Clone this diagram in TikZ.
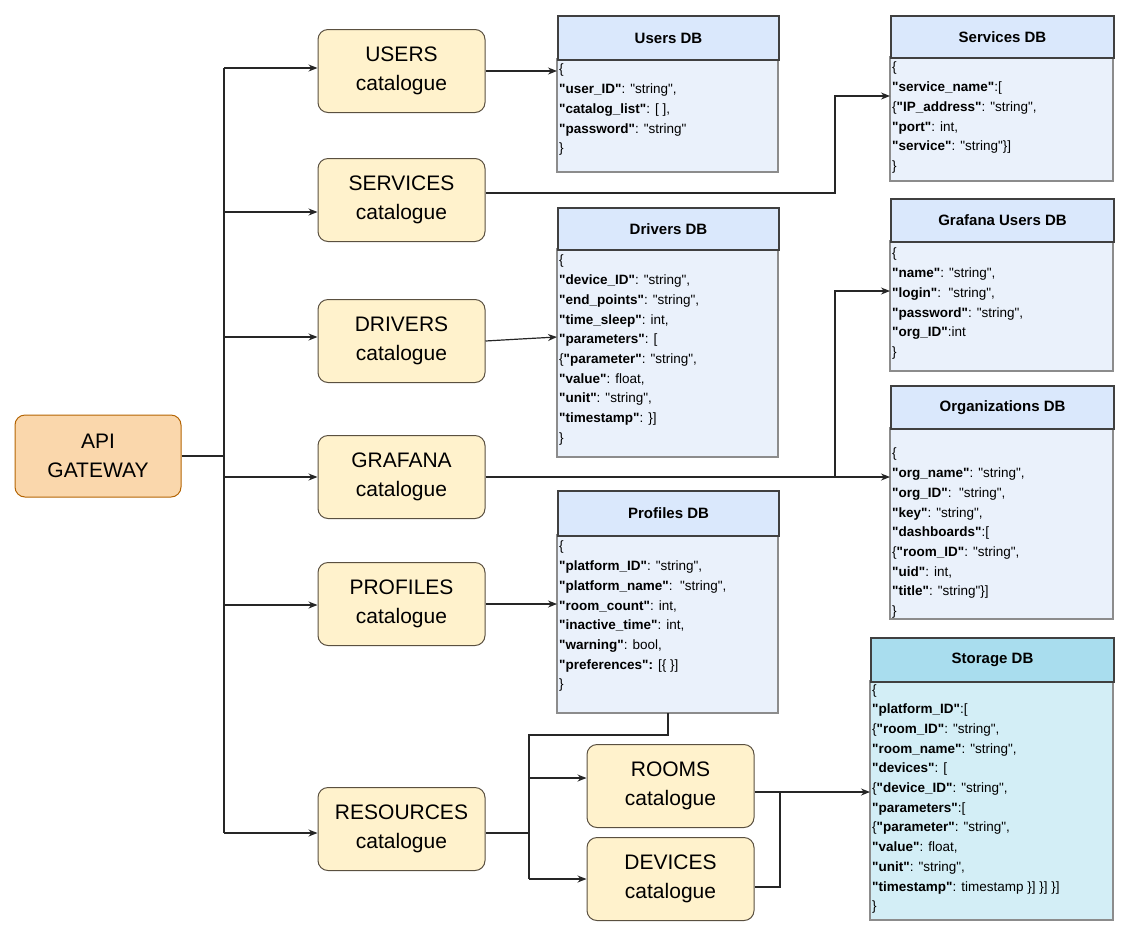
\documentclass[tikz,border=0pt]{standalone}
\usepackage{fontspec}
\setmainfont{Liberation Sans}[Ligatures=TeXOff]
\usetikzlibrary{arrows.meta}
\definecolor{catfill}{HTML}{FFF2CC}
\definecolor{catdraw}{HTML}{5A5040}
\definecolor{apifill}{HTML}{FAD7AC}
\definecolor{apidraw}{HTML}{B46504}
\definecolor{hdfill}{HTML}{DAE8FC}
\definecolor{bdfill}{HTML}{EAF1FB}
\definecolor{sthd}{HTML}{A9DDEE}
\definecolor{stbd}{HTML}{D3EEF6}
\newcommand\K[1]{\textbf{"#1"}}
\begin{document}
\begin{tikzpicture}[x=1pt,y=-1pt,
  cat/.style={draw=catdraw,fill=catfill,rounded corners=10pt,line width=1pt,minimum width=167pt,minimum height=83pt,align=center,font=\fontsize{21}{29}\selectfont},
  dbhead/.style={draw=black!75,line width=2pt,font=\bfseries\fontsize{15}{18}\selectfont,inner sep=0pt},
  txt/.style={anchor=north west,align=left,inner sep=0pt,font=\fontsize{13.5}{19.7}\selectfont},
  arr/.style={-{Stealth[length=9pt,width=7pt]},line width=1.2pt,black!85},
  ln/.style={line width=1.2pt,black!85}]
\useasboundingbox (0,0) rectangle (1131,938);
% API
\node[draw=apidraw,fill=apifill,rounded corners=10pt,line width=1pt,minimum width=166pt,minimum height=82pt,align=center,font=\fontsize{21}{29}\selectfont] (api) at (98,456) {API\\GATEWAY};
% catalogues
\node[cat] (users) at (401.5,71) {USERS\\catalogue};
\node[cat] (serv) at (401.5,200) {SERVICES\\catalogue};
\node[cat] (drv) at (401.5,341) {DRIVERS\\catalogue};
\node[cat] (graf) at (401.5,477) {GRAFANA\\catalogue};
\node[cat] (prof) at (401.5,604) {PROFILES\\catalogue};
\node[cat] (res) at (401.5,829) {RESOURCES\\catalogue};
\node[cat] (rooms) at (670.5,786) {ROOMS\\catalogue};
\node[cat] (dev) at (670.5,879) {DEVICES\\catalogue};
% DBs
\fill[bdfill] (557,59) rectangle (778,172); \draw[black!45,line width=2pt] (557,59) rectangle (778,172);
\node[txt] at (559,64) {\{\\\K{user\_ID}: "string",\\\K{catalog\_list}: [ ],\\\K{password}: "string"\\\}};
\node[dbhead,fill=hdfill,minimum width=221pt,minimum height=44pt,anchor=north west] (udbh) at (557,15) {Users DB};

\fill[bdfill] (557,249) rectangle (778,457); \draw[black!45,line width=2pt] (557,249) rectangle (778,457);
\node[dbhead,fill=hdfill,minimum width=221pt,minimum height=42pt,anchor=north west] (ddbh) at (557,207) {Drivers DB};
\node[txt] at (559,255) {\{\\\K{device\_ID}: "string",\\\K{end\_points}: "string",\\\K{time\_sleep}: int,\\\K{parameters}: [\\\{\K{parameter}: "string",\\\K{value}: float,\\\K{unit}: "string",\\\K{timestamp}: \}]\\\}};

\fill[bdfill] (557,535) rectangle (778,713); \draw[black!45,line width=2pt] (557,535) rectangle (778,713);
\node[dbhead,fill=hdfill,minimum width=221pt,minimum height=45pt,anchor=north west] (pdbh) at (557,490) {Profiles DB};
\node[txt] at (559,541) {\{\\\K{platform\_ID}: "string",\\\K{platform\_name}:\ \ "string",\\\K{room\_count}: int,\\\K{inactive\_time}: int,\\\K{warning}: bool,\\\K{preferences}\textbf{:} [\{ \}]\\\}};

\fill[bdfill] (890,57) rectangle (1113,181); \draw[black!45,line width=2pt] (890,57) rectangle (1113,181);
\node[dbhead,fill=hdfill,minimum width=223pt,minimum height=42pt,anchor=north west] (sdbh) at (890,15) {Services DB};
\node[txt] at (892,62) {\{\\\K{service\_name}:[\\\{\K{IP\_address}: "string",\\\K{port}: int,\\\K{service}: "string"\}]\\\}};

\fill[bdfill] (890,241) rectangle (1113,371); \draw[black!45,line width=2pt] (890,241) rectangle (1113,371);
\node[dbhead,fill=hdfill,minimum width=223pt,minimum height=43pt,anchor=north west] (gdbh) at (890,198) {Grafana Users DB};
\node[txt] at (892,248) {\{\\\K{name}: "string",\\\K{login}:\ \ "string",\\\K{password}: "string",\\\K{org\_ID}:int\\\}};

\fill[bdfill] (890,428) rectangle (1113,619); \draw[black!45,line width=2pt] (890,428) rectangle (1113,619);
\node[dbhead,fill=hdfill,minimum width=223pt,minimum height=43pt,anchor=north west] (odbh) at (890,385) {Organizations DB};
\node[txt] at (892,448) {\{\\\K{org\_name}: "string",\\\K{org\_ID}:\ \ "string",\\\K{key}: "string",\\\K{dashboards}:[\\\{\K{room\_ID}: "string",\\\K{uid}: int,\\\K{title}: "string"\}]\\\}};

\fill[stbd] (870,681) rectangle (1113,920); \draw[black!45,line width=2pt] (870,681) rectangle (1113,920);
\node[dbhead,fill=sthd,minimum width=243pt,minimum height=44pt,anchor=north west] (stdbh) at (870,637) {Storage DB};
\node[txt] at (872,684) {\{\\\K{platform\_ID}:[\\\{\K{room\_ID}: "string",\\\K{room\_name}: "string",\\\K{devices}: [\\\{\K{device\_ID}: "string",\\\K{parameters}:[\\\{\K{parameter}: "string",\\\K{value}: float,\\\K{unit}: "string",\\\K{timestamp}: timestamp \}] \}] \}]\\\}};
% coordinates
\coordinate (tr) at (224,456);
\coordinate (usrin) at (557,71);
\coordinate (drvin) at (557,337);
\coordinate (srvin) at (890,96);
\coordinate (gin) at (890,291);
\coordinate (oin) at (890,477);
\coordinate (pin) at (557,604);
\coordinate (stin) at (870,792);
\coordinate (pout) at (668,713);
% connectors
\draw[ln] (api.east |- tr) -- (tr);
\draw[ln] (224,68) -- (224,833);
\draw[arr] (224,68) -- (users.west |- 0,68);
\draw[arr] (224,212) -- (serv.west |- 0,212);
\draw[arr] (224,337) -- (drv.west |- 0,337);
\draw[arr] (224,477) -- (graf.west);
\draw[arr] (224,605) -- (prof.west |- 0,605);
\draw[arr] (224,833) -- (res.west |- 0,833);
\draw[arr] (users.east) -- (usrin);
\draw[arr] (serv.east |- 0,193) -- (835,193) -- (835,96) -- (srvin);
\draw[arr] (drv.east) .. controls (520,339) .. (drvin);
\draw[arr] (graf.east) -- (oin);
\draw[arr] (835,477) -- (835,291) -- (gin);
\draw[arr] (prof.east) -- (pin);
\draw[ln] (pout) -- (668,735) -- (529,735) -- (529,879);
\draw[ln] (res.east |- 0,833) -- (529,833);
\draw[arr] (529,778) -- (rooms.west |- 0,778);
\draw[arr] (529,879) -- (dev.west |- 0,879);
\draw[arr] (rooms.east |- 0,792) -- (stin);
\draw[ln] (dev.east |- 0,887) -- (780,887) -- (780,792);
\end{tikzpicture}
\end{document}
